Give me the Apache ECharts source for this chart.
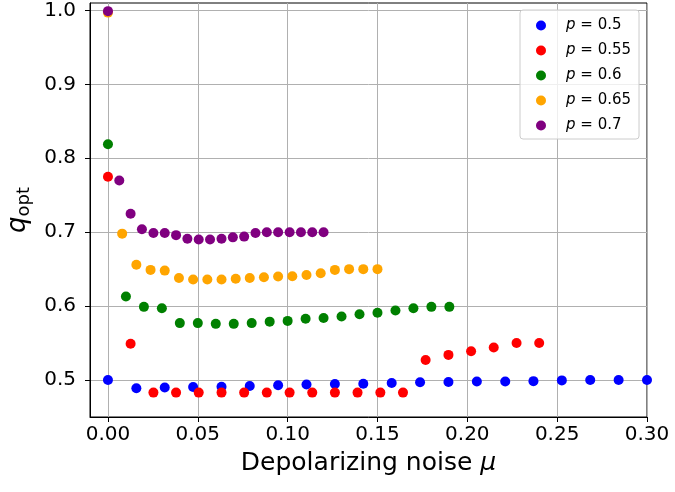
<!DOCTYPE html>
<html><head><meta charset="utf-8">
<script src="https://cdn.jsdelivr.net/npm/echarts@6/dist/echarts.min.js"></script>
<style>html,body{margin:0;padding:0;background:#fff}#c{width:675px;height:492px}</style>
</head><body><div id="c"></div>
<script>
// Tick labels
const xTicks = [0.00, 0.05, 0.10, 0.15, 0.20, 0.25, 0.30];
const yTicks = [0.5, 0.6, 0.7, 0.8, 0.9, 1.0];
// Legend labels (values of p)
const pLabels = ['0.5', '0.55', '0.6', '0.65', '0.7'];
const colors = ['#0000ff', '#ff0000', '#008000', '#ffa500', '#800080'];

// p = 0.5
const muP050 = [0, 0.0158, 0.0316, 0.0474, 0.0632, 0.0789, 0.0947, 0.1105, 0.1263, 0.1421, 0.1579, 0.1737, 0.1895, 0.2053, 0.2211, 0.2368, 0.2526, 0.2684, 0.2842, 0.3000];
const qP050  = [0.500, 0.489, 0.490, 0.4905, 0.491, 0.492, 0.493, 0.494, 0.4946, 0.495, 0.496, 0.497, 0.4973, 0.498, 0.498, 0.4985, 0.4995, 0.500, 0.500, 0.500];
// p = 0.55
const muP055 = [0, 0.0126, 0.0253, 0.0379, 0.0505, 0.0632, 0.0758, 0.0884, 0.1011, 0.1137, 0.1263, 0.1389, 0.1516, 0.1642, 0.1768, 0.1895, 0.2021, 0.2147, 0.2274, 0.2400];
const qP055  = [0.775, 0.549, 0.483, 0.483, 0.483, 0.483, 0.483, 0.483, 0.483, 0.483, 0.483, 0.483, 0.483, 0.483, 0.527, 0.534, 0.539, 0.544, 0.550, 0.550];
// p = 0.6
const muP060 = [0, 0.01, 0.02, 0.03, 0.04, 0.05, 0.06, 0.07, 0.08, 0.09, 0.10, 0.11, 0.12, 0.13, 0.14, 0.15, 0.16, 0.17, 0.18, 0.19];
const qP060  = [0.819, 0.613, 0.599, 0.597, 0.577, 0.577, 0.576, 0.576, 0.577, 0.579, 0.580, 0.583, 0.584, 0.586, 0.589, 0.591, 0.594, 0.597, 0.599, 0.599];
// p = 0.65
const muP065 = [0, 0.0079, 0.0158, 0.0237, 0.0316, 0.0395, 0.0474, 0.0553, 0.0632, 0.0711, 0.0789, 0.0868, 0.0947, 0.1026, 0.1105, 0.1184, 0.1263, 0.1342, 0.1421, 0.1500];
const qP065  = [0.997, 0.698, 0.656, 0.649, 0.648, 0.638, 0.636, 0.636, 0.636, 0.637, 0.638, 0.639, 0.640, 0.6405, 0.642, 0.6445, 0.649, 0.650, 0.650, 0.650];
// p = 0.7
const muP070 = [0, 0.0063, 0.0126, 0.0189, 0.0253, 0.0316, 0.0379, 0.0442, 0.0505, 0.0568, 0.0632, 0.0695, 0.0758, 0.0821, 0.0884, 0.0947, 0.1011, 0.1074, 0.1137, 0.1200];
const qP070  = [0.999, 0.770, 0.725, 0.704, 0.699, 0.699, 0.696, 0.691, 0.690, 0.690, 0.691, 0.693, 0.694, 0.699, 0.700, 0.700, 0.700, 0.700, 0.700, 0.700];

const seriesX = [muP050, muP055, muP060, muP065, muP070];
const seriesY = [qP050, qP055, qP060, qP065, qP070];

const FONT = 'DejaVu Sans';
const chart = echarts.init(document.getElementById('c'), null, {renderer: 'canvas'});

const series = pLabels.map((p, k) => ({
  name: p,
  type: 'scatter',
  symbol: 'circle',
  symbolSize: 10,
  itemStyle: {color: colors[k], opacity: 1},
  emphasis: {disabled: true},
  z: 2 + k,
  data: seriesX[k].map((x, i) => [x, seriesY[k][i]])
}));

chart.setOption({
  animation: false,
  backgroundColor: '#ffffff',
  textStyle: {fontFamily: FONT},
  grid: {left: 90, right: 28, top: 3, bottom: 75, show: true, borderColor: '#000', borderWidth: 1, containLabel: false, outerBoundsMode: 'none'},
  xAxis: {
    type: 'value', min: -0.01, max: 0.30,
    name: '{a|Depolarizing noise }{b|μ}',
    nameLocation: 'middle', nameGap: 34,
    nameTextStyle: {rich: {
      a: {fontFamily: FONT, fontSize: 25, color: '#000'},
      b: {fontFamily: FONT, fontSize: 25, fontStyle: 'italic', color: '#000'}
    }},
    axisLine: {show: true, onZero: false, lineStyle: {color: '#000', width: 1}},
    axisTick: {show: true, length: 5, inside: false, customValues: xTicks, lineStyle: {color: '#000'}},
    axisLabel: {customValues: xTicks, margin: 8, fontFamily: FONT, fontSize: 20, color: '#000', formatter: v => v.toFixed(2)},
    splitLine: {show: true, lineStyle: {color: '#b0b0b0', width: 1}}
  },
  yAxis: {
    type: 'value', min: 0.45, max: 1.01,
    name: '{q|q}{s|opt}',
    nameLocation: 'middle', nameRotate: 90, nameGap: 45,
    nameTextStyle: {rich: {
      q: {fontFamily: FONT, fontSize: 26, fontStyle: 'italic', color: '#000', lineHeight: 26, verticalAlign: 'top'},
      s: {fontFamily: FONT, fontSize: 18, color: '#000', lineHeight: 18, padding: [12, 0, 0, 0]}
    }},
    axisLine: {show: true, onZero: false, lineStyle: {color: '#000', width: 1}},
    axisTick: {show: true, length: 5, inside: false, customValues: yTicks, lineStyle: {color: '#000'}},
    axisLabel: {customValues: yTicks, margin: 14, fontFamily: FONT, fontSize: 20, color: '#000', formatter: v => v.toFixed(1)},
    splitLine: {show: true, lineStyle: {color: '#b0b0b0', width: 1}}
  },
  legend: {
    show: true, orient: 'vertical', left: 520, top: 10,
    padding: [8, 8, 6, 16],
    itemWidth: 40, itemHeight: 10, itemGap: 10,
    icon: 'circle',
    backgroundColor: 'rgba(255,255,255,0.8)',
    borderColor: '#cccccc', borderWidth: 1, borderRadius: 3,
    selectedMode: false,
    data: pLabels,
    formatter: n => '{i|p} = ' + n,
    textStyle: {fontFamily: FONT, fontSize: 15, color: '#000', lineHeight: 14,
      rich: {i: {fontFamily: FONT, fontSize: 15, fontStyle: 'italic', color: '#000', lineHeight: 14}}}
  },
  series: series
});
</script></body></html>
